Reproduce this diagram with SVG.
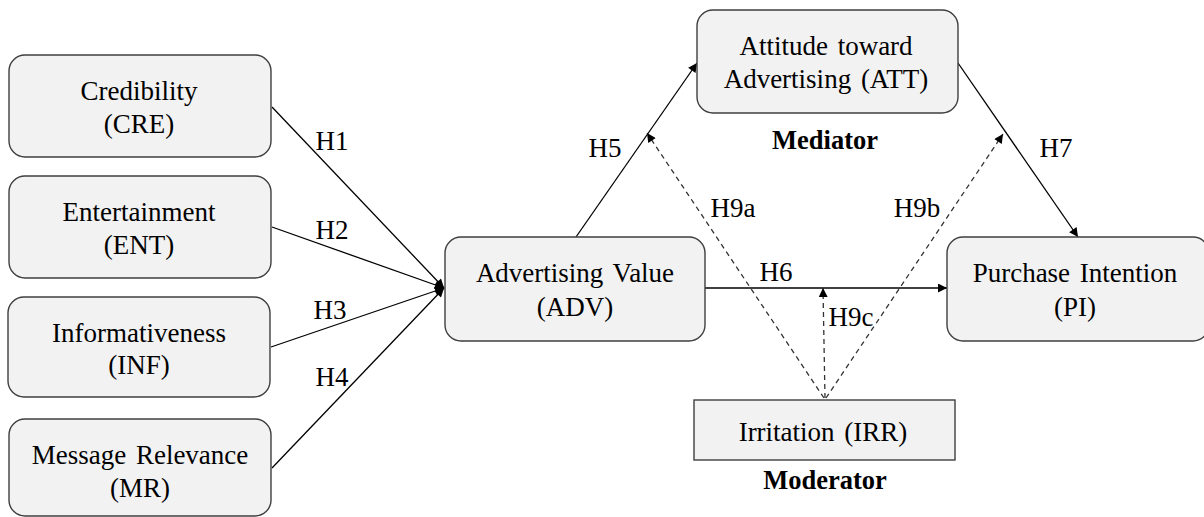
<svg xmlns="http://www.w3.org/2000/svg" width="1204" height="517" viewBox="0 0 1204 517">
<style>
.box{fill:#f2f2f2;stroke:#3f3f3f;stroke-width:1.4}
.t{font-family:"Liberation Serif","Times New Roman",serif;font-size:27px;fill:#000;text-anchor:middle;dominant-baseline:central;word-spacing:3px}
.b{font-weight:bold;font-size:26.5px}
.ln{stroke:#000;stroke-width:1.3;fill:none}
.d{stroke:#333;stroke-width:1.3;fill:none;stroke-dasharray:5,4}
</style>
<defs>
<marker id="ah" viewBox="0 0 10 10" refX="10" refY="5" markerWidth="10" markerHeight="9" markerUnits="userSpaceOnUse" orient="auto">
<path d="M0,0 L10,5 L0,10 Z" fill="#000"/>
</marker>
</defs>
<g id="connectors">
<line class="ln" x1="272" y1="107" x2="444" y2="288" marker-end="url(#ah)"/>
<line class="ln" x1="272" y1="227" x2="444" y2="288" marker-end="url(#ah)"/>
<line class="ln" x1="271" y1="347" x2="444" y2="288" marker-end="url(#ah)"/>
<line class="ln" x1="272" y1="468" x2="444" y2="288" marker-end="url(#ah)"/>
<line class="ln" x1="576" y1="237" x2="697" y2="63" marker-end="url(#ah)"/>
<line class="ln" x1="705" y1="288" x2="947" y2="288" marker-end="url(#ah)"/>
<line class="ln" x1="958" y1="63" x2="1078" y2="237" marker-end="url(#ah)"/>
<line class="d" x1="824" y1="398" x2="647" y2="133" marker-end="url(#ah)"/>
<line class="d" x1="826" y1="398" x2="1003" y2="134" marker-end="url(#ah)"/>
<line class="d" x1="825" y1="398" x2="823" y2="288" marker-end="url(#ah)"/>
<text class="t" x="332" y="141">H1</text>
<text class="t" x="332" y="230">H2</text>
<text class="t" x="330" y="310">H3</text>
<text class="t" x="332" y="377">H4</text>
<text class="t" x="605" y="148">H5</text>
<text class="t" x="776" y="272">H6</text>
<text class="t" x="1056" y="148">H7</text>
<text class="t" x="733" y="208">H9a</text>
<text class="t" x="917" y="208">H9b</text>
<text class="t" x="851" y="317">H9c</text>
</g>
<g id="CRE">
<rect class="box" x="9" y="55" width="262" height="102" rx="16"/>
<text class="t" x="139" y="91">Credibility</text>
<text class="t" x="139" y="124">(CRE)</text>
</g>
<g id="ENT">
<rect class="box" x="9" y="176" width="262" height="102" rx="16"/>
<text class="t" x="139" y="212">Entertainment</text>
<text class="t" x="139" y="245">(ENT)</text>
</g>
<g id="INF">
<rect class="box" x="8" y="297" width="262" height="100" rx="16"/>
<text class="t" x="139" y="333">Informativeness</text>
<text class="t" x="139" y="365">(INF)</text>
</g>
<g id="MR">
<rect class="box" x="9" y="419" width="262" height="97" rx="16"/>
<text class="t" x="140" y="455">Message Relevance</text>
<text class="t" x="140" y="488">(MR)</text>
</g>
<g id="ADV">
<rect class="box" x="445" y="237" width="260" height="104" rx="16"/>
<text class="t" x="575" y="273">Advertising Value</text>
<text class="t" x="575" y="307">(ADV)</text>
</g>
<g id="ATT">
<rect class="box" x="697" y="10" width="261" height="103" rx="16"/>
<text class="t" x="826" y="46">Attitude toward</text>
<text class="t" x="826" y="79">Advertising (ATT)</text>
<text class="t b" x="825" y="140">Mediator</text>
</g>
<g id="PI">
<rect class="box" x="947" y="237" width="262" height="104" rx="16"/>
<text class="t" x="1075" y="273">Purchase Intention</text>
<text class="t" x="1075" y="307">(PI)</text>
</g>
<g id="IRR">
<rect class="box" x="694" y="400" width="261" height="60"/>
<text class="t" x="823" y="432">Irritation (IRR)</text>
<text class="t b" x="825" y="480">Moderator</text>
</g>
</svg>
